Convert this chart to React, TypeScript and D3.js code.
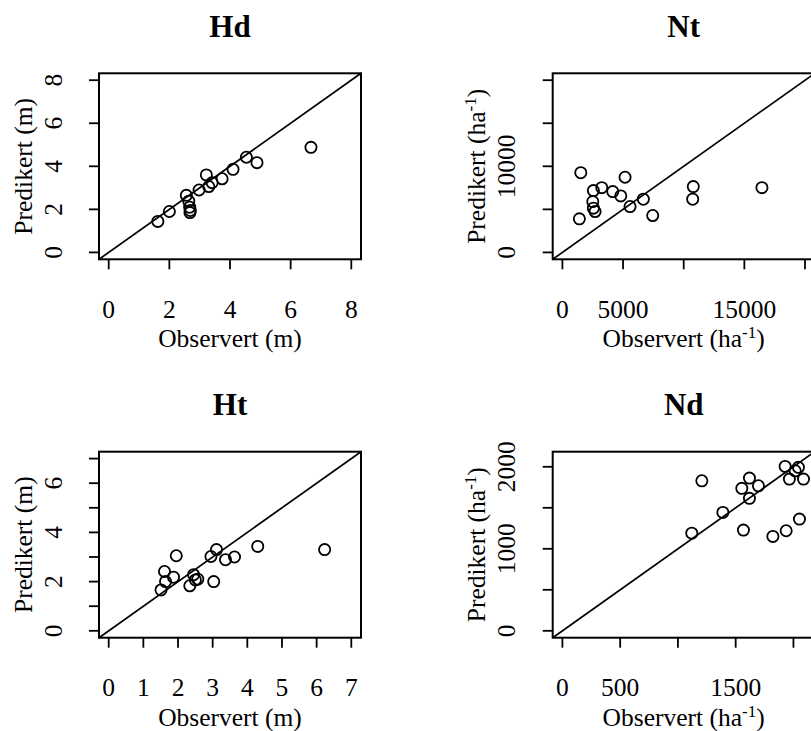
import React from 'react';
import * as d3 from 'd3';

// ---- Data (observed vs predicted) ----
const hdObs = [1.62, 2.0, 2.56, 2.64, 2.67, 2.69, 2.68, 2.98, 3.22, 3.3, 3.41, 3.74, 4.1, 4.54, 4.89, 6.67];
const hdPred = [1.44, 1.9, 2.65, 2.38, 2.1, 1.95, 1.85, 2.9, 3.6, 3.06, 3.24, 3.42, 3.86, 4.42, 4.17, 4.88];

const ntObs = [1516, 1400, 2554, 3245, 2504, 2554, 2694, 4152, 4811, 5165, 5577, 6672, 7446, 10790, 10741, 16450];
const ntPred = [9259, 3900, 7176, 7523, 5903, 5139, 4745, 7060, 6562, 8727, 5324, 6181, 4282, 7640, 6181, 7523];

const htObs = [1.51, 1.61, 1.64, 1.87, 1.95, 2.34, 2.45, 2.5, 2.57, 3.03, 2.95, 3.11, 3.37, 3.63, 4.3, 6.23];
const htPred = [1.66, 2.41, 2.0, 2.18, 3.05, 1.83, 2.28, 2.07, 2.1, 2.0, 3.02, 3.3, 2.89, 3.0, 3.43, 3.3];

const ndObs = [1207, 1120, 1389, 1567, 1553, 1619, 1697, 1619, 1822, 1937, 2052, 1928, 1965, 2015, 2043, 2087];
const ndPred = [1829, 1191, 1444, 1228, 1737, 1862, 1768, 1615, 1151, 1220, 1362, 2005, 1850, 1951, 1993, 1850];

// ---- Axes ----
const hdTicks = [0, 2, 4, 6, 8];
const hdXLabels = ['0', '2', '4', '6', '8'];
const hdYLabels = ['0', '2', '4', '6', '8'];

const ntTicks = [0, 5000, 10000, 15000, 20000];
const ntXLabels = ['0', '5000', '', '15000', ''];
const ntYLabels = ['0', '', '10000', '', ''];

const htTicks = [0, 1, 2, 3, 4, 5, 6, 7];
const htXLabels = ['0', '1', '2', '3', '4', '5', '6', '7'];
const htYLabels = ['0', '', '2', '', '4', '', '6', ''];

const ndTicks = [0, 500, 1000, 1500, 2000];
const ndXLabels = ['0', '500', '', '1500', ''];
const ndYLabels = ['0', '', '1000', '', '2000'];

const titles = ['Hd', 'Nt', 'Ht', 'Nd'];

const FONT = '"Liberation Serif", "Times New Roman", serif';

type Panel = {
  title: string;
  obs: number[];
  pred: number[];
  lim: [number, number];
  ticks: number[];
  xLabels: string[];
  yLabels: string[];
  unit: 'm' | 'ha';
  left: number;
  top: number;
};

const W = 262;
const H = 186;

const panels: Panel[] = [
  { title: titles[0], obs: hdObs, pred: hdPred, lim: [0, 8], ticks: hdTicks, xLabels: hdXLabels, yLabels: hdYLabels, unit: 'm', left: 99, top: 73.3 },
  { title: titles[1], obs: ntObs, pred: ntPred, lim: [0, 20000], ticks: ntTicks, xLabels: ntXLabels, yLabels: ntYLabels, unit: 'ha', left: 552.7, top: 73.3 },
  { title: titles[2], obs: htObs, pred: htPred, lim: [0, 7], ticks: htTicks, xLabels: htXLabels, yLabels: htYLabels, unit: 'm', left: 99, top: 451.7 },
  { title: titles[3], obs: ndObs, pred: ndPred, lim: [0, 2100], ticks: ndTicks, xLabels: ndXLabels, yLabels: ndYLabels, unit: 'ha', left: 552.7, top: 451.7 },
];

function AxisTitle({ base, unit }: { base: string; unit: 'm' | 'ha' }) {
  if (unit === 'm') return <>{`${base} (m)`}</>;
  return (
    <>
      {`${base} (ha`}
      <tspan dy={-9} fontSize={17}>-1</tspan>
      <tspan dy={9}>)</tspan>
    </>
  );
}

function PanelView({ p }: { p: Panel }) {
  const [lo, hi] = p.lim;
  const ext = (hi - lo) * 0.04;
  const x = d3.scaleLinear().domain([lo - ext, hi + ext]).range([p.left, p.left + W]);
  const y = d3.scaleLinear().domain([lo - ext, hi + ext]).range([p.top + H, p.top]);
  const bottom = p.top + H;
  const cx = p.left + W / 2;
  const cy = p.top + H / 2;
  const line = d3.line<[number, number]>().x((d) => x(d[0])).y((d) => y(d[1]));
  const diag: [number, number][] = [
    [lo - ext, lo - ext],
    [hi + ext, hi + ext],
  ];
  return (
    <g>
      <text x={cx} y={p.top - 36.6} textAnchor="middle" fontSize={31} fontWeight="bold" fontFamily={FONT}>
        {p.title}
      </text>
      <path d={line(diag) || ''} stroke="#000" strokeWidth={1.7} fill="none" />
      {p.obs.map((o, i) => (
        <circle key={i} cx={x(o)} cy={y(p.pred[i])} r={5.6} fill="none" stroke="#000" strokeWidth={1.8} />
      ))}
      <rect x={p.left} y={p.top} width={W} height={H} fill="none" stroke="#000" strokeWidth={2} />
      {p.ticks.map((t, i) => (
        <g key={'x' + i}>
          <line x1={x(t)} x2={x(t)} y1={bottom} y2={bottom + 10} stroke="#000" strokeWidth={1.8} />
          {p.xLabels[i] && (
            <text x={x(t)} y={bottom + 58.5} textAnchor="middle" fontSize={25.5} fontFamily={FONT}>
              {p.xLabels[i]}
            </text>
          )}
        </g>
      ))}
      {p.ticks.map((t, i) => (
        <g key={'y' + i}>
          <line x1={p.left} x2={p.left - 10} y1={y(t)} y2={y(t)} stroke="#000" strokeWidth={1.8} />
          {p.yLabels[i] && (
            <text
              transform={`translate(${p.left - 37.3},${y(t)}) rotate(-90)`}
              textAnchor="middle"
              fontSize={25.5}
              fontFamily={FONT}
            >
              {p.yLabels[i]}
            </text>
          )}
        </g>
      ))}
      <text x={cx} y={bottom + 88} textAnchor="middle" fontSize={25.5} fontFamily={FONT}>
        <AxisTitle base="Observert" unit={p.unit} />
      </text>
      <text
        transform={`translate(${p.left - 67.3},${cy}) rotate(-90)`}
        textAnchor="middle"
        fontSize={25.5}
        fontFamily={FONT}
      >
        <AxisTitle base="Predikert" unit={p.unit} />
      </text>
    </g>
  );
}

export default function App() {
  return (
    <svg
      width={811}
      height={731}
      style={{ position: 'absolute', left: 0, top: 0, background: '#fff' }}
    >
      <rect x={0} y={0} width={811} height={731} fill="#fff" />
      {panels.map((p, i) => (
        <PanelView key={i} p={p} />
      ))}
    </svg>
  );
}
